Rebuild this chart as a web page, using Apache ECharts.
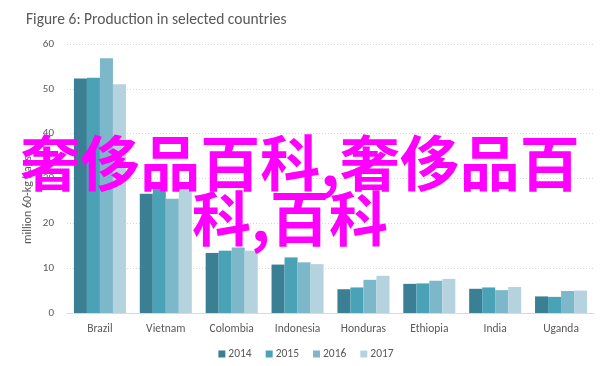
<!DOCTYPE html>
<html><head><meta charset="utf-8">
<script src="https://cdn.jsdelivr.net/npm/echarts@6/dist/echarts.min.js"></script>
<style>html,body{margin:0;padding:0;background:#fff}#c{width:612px;height:366px}</style>
</head><body><div id="c"></div>
<script>
const categories = ["Brazil","Vietnam","Colombia","Indonesia","Honduras","Ethiopia","India","Uganda"];
const years = ["2014","2015","2016","2017"];
const v2014 = [52.3, 26.6, 13.4, 10.8, 5.3, 6.5, 5.4, 3.7];
const v2015 = [52.5, 28.7, 13.9, 12.4, 5.7, 6.6, 5.7, 3.6];
const v2016 = [56.8, 25.5, 14.6, 11.3, 7.4, 7.2, 5.1, 4.9];
const v2017 = [51.0, 28.8, 13.9, 10.9, 8.3, 7.6, 5.8, 5.0];
const yTicks = [0, 10, 20, 30, 40, 50, 60];
const colors = ["#3b7f94", "#4aa2b7", "#7db7ca", "#b5d3de"];
const titleText = "Figure 6: Production in selected countries";
const yName = "million 60-kg bags";
const watermark1 = "奢侈品百科,奢侈品百";
const watermark2 = "科,百科";

const font = "Carlito, Calibri, 'Open Sans', 'Liberation Sans', sans-serif";
const chart = echarts.init(document.getElementById('c'), null, {renderer: 'canvas'});
const seriesData = [v2014, v2015, v2016, v2017];
chart.setOption({
  animation: false,
  textStyle: {fontFamily: font},
  title: {text: titleText, left: 21, top: 7,
    textStyle: {fontSize: 15.5, fontWeight: 'normal', color: '#595959', fontFamily: font}},
  grid: {left: 67, right: 18, top: 44, bottom: 53},
  legend: {bottom: 1, left: 'center', itemWidth: 7, itemHeight: 7, itemGap: 14,
    icon: 'rect', textStyle: {fontSize: 11.5, color: '#595959', fontFamily: font, padding: [0,0,0,-2]},
    data: years},
  xAxis: {type: 'category', data: categories,
    axisLine: {lineStyle: {color: '#d9d9d9'}}, axisTick: {show: false},
    axisLabel: {fontSize: 11.5, color: '#595959', margin: 10, fontFamily: font}},
  yAxis: {type: 'value', min: yTicks[0], max: yTicks[yTicks.length-1], interval: 10,
    axisLine: {show: false}, axisTick: {show: false},
    axisLabel: {fontSize: 11, color: '#595959', margin: 13, fontFamily: font},
    splitLine: {lineStyle: {color: '#d9d9d9', type: [1, 2]}}},
  series: years.map((y, i) => ({
    name: y, type: 'bar', data: seriesData[i], barGap: '0%', barCategoryGap: '21%',
    itemStyle: {color: colors[i]}
  })),
  graphic: [
    {type: 'text', x: 28, y: 200, rotation: Math.PI/2,
      style: {text: yName, fill: '#595959', font: "12px " + font,
        textAlign: 'center', textVerticalAlign: 'middle'}},
    {type: 'text', x: 300, y: 163, z: 100,
      style: {text: watermark1, fill: '#ff00ff', font: "bold 60px 'Noto Sans CJK SC'",
        textAlign: 'center', textVerticalAlign: 'middle'}},
    {type: 'text', x: 290, y: 219, z: 100,
      style: {text: watermark2, fill: '#ff00ff', font: "bold 59px 'Noto Sans CJK SC'",
        textAlign: 'center', textVerticalAlign: 'middle'}}
  ]
});
</script></body></html>
